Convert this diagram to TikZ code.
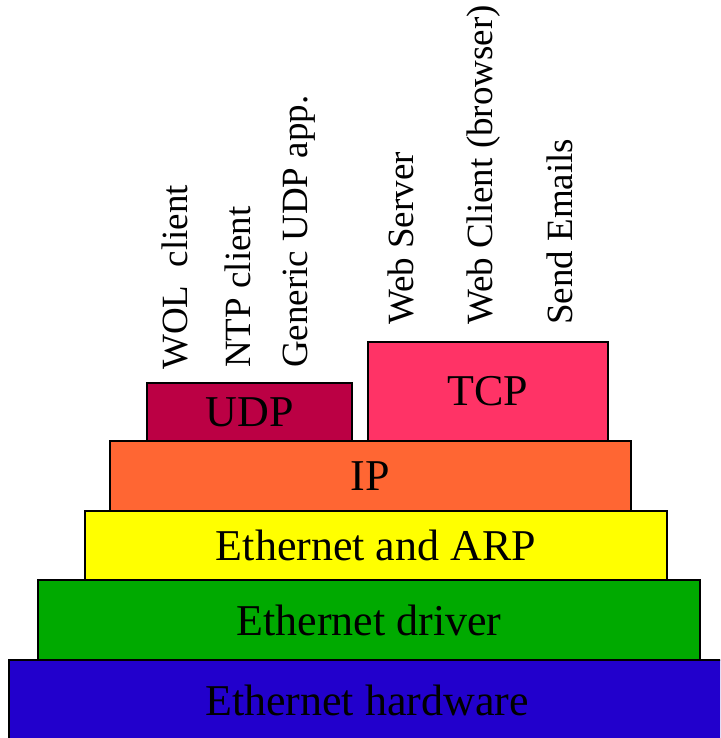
\documentclass[tikz,border=0pt]{standalone}
\usepackage{fontspec}
\setmainfont{Liberation Serif}
\usetikzlibrary{positioning}
\definecolor{hwblue}{HTML}{2200CC}
\definecolor{drvgreen}{HTML}{00AA00}
\definecolor{arpyellow}{HTML}{FFFF00}
\definecolor{iporange}{HTML}{FF6633}
\definecolor{udpred}{HTML}{BB0044}
\definecolor{tcppink}{HTML}{FF3366}
\tikzset{layer/.style={draw=black, line width=1.5pt, inner sep=0pt, outer sep=0pt, font=\fontsize{44}{50}\selectfont},
	app/.style={rotate=90, anchor=base west, inner sep=0pt, font=\fontsize{37}{40}\selectfont}}

\begin{document}
\begin{tikzpicture}[x=1pt, y=1pt]
	\useasboundingbox (0,0) rectangle (720,738);
	\clip (0,0) rectangle (720,738);
	% protocol stack, bottom up
	\node[layer, fill=hwblue, minimum width=760, minimum height=80, anchor=north west] (hw) at (9,78) {\hspace*{-44pt}Ethernet hardware};
	\node[layer, fill=drvgreen, minimum width=662, minimum height=80, anchor=south west] (drv) at ([xshift=29]hw.north west) {Ethernet driver};
	\node[layer, fill=arpyellow, minimum width=582, minimum height=69, anchor=south west] (arp) at ([xshift=47]drv.north west) {Ethernet and ARP};
	\node[layer, fill=iporange, minimum width=521, minimum height=70, anchor=south west] (ip) at ([xshift=25]arp.north west) {IP};
	\node[layer, fill=udpred, minimum width=205, minimum height=58, anchor=south west] (udp) at ([xshift=37]ip.north west) {UDP};
	\node[layer, fill=tcppink, minimum width=240, minimum height=99, anchor=south west] (tcp) at ([xshift=16]udp.south east) {TCP};

	% applications
	\node[app] (wol) at (187,368) {WOL~ client};
	\node[app] (ntp) at (250,370) {NTP client};
	\node[app] (gen) at (307,370) {Generic UDP app.};
	\node[app] (websrv) at (413,413) {Web Server};
	\node[app] (webcli) at (492,413) {Web Client (browser)};
	\node[app] (mail) at (572,413) {Send Emails};
\end{tikzpicture}
\end{document}
